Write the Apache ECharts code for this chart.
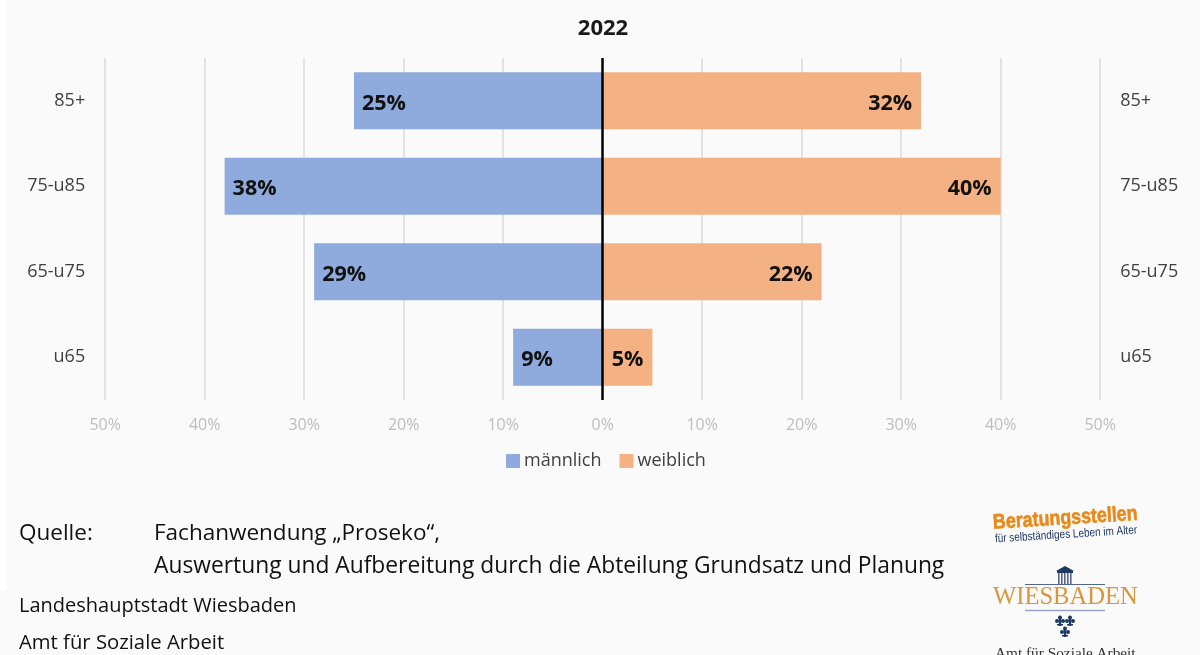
<!DOCTYPE html>
<html lang="de">
<head>
<meta charset="utf-8">
<title>Altersstruktur 2022</title>
<script src="https://cdn.jsdelivr.net/npm/echarts@6/dist/echarts.min.js"></script>
<style>
  html, body { margin: 0; padding: 0; background: #ffffff; }
  #chart { width: 1200px; height: 655px; }
</style>
</head>
<body>
<div id="chart"></div>
<script>
// Altersgruppen von unten nach oben, Anteile in Prozent
const ageGroups = ['u65', '65-u75', '75-u85', '85+'];
const maleShare = [9, 29, 38, 25];
const femaleShare = [5, 22, 40, 32];
const axisTicks = [-50, -40, -30, -20, -10, 0, 10, 20, 30, 40, 50];

const UI_FONT = '"Open Sans", "Noto Sans", sans-serif';
const SERIF = '"Liberation Serif", "DejaVu Serif", serif';
const SANS = '"Liberation Sans", sans-serif';
const NAVY = '#1f3864';
const GOLD = '#d9963a';

const pct = v => Math.abs(v) + '%';

// Text des Fußbereichs
function footerText(x, y, text, size) {
  return { type: 'text', x, y, style: { text, font: size + 'px ' + UI_FONT, fill: '#111111', verticalAlign: 'middle' } };
}

// Wappenlilie im Logo
function lily(x, y) {
  return { type: 'group', x, y, children: [
    { type: 'circle', shape: { cx: 0, cy: -3.5, r: 2 }, style: { fill: NAVY } },
    { type: 'circle', shape: { cx: -3, cy: 0, r: 2 }, style: { fill: NAVY } },
    { type: 'circle', shape: { cx: 3, cy: 0, r: 2 }, style: { fill: NAVY } },
    { type: 'rect', shape: { x: -1.2, y: -3, width: 2.4, height: 8 }, style: { fill: NAVY } },
    { type: 'rect', shape: { x: -3, y: 3, width: 6, height: 1.5 }, style: { fill: NAVY } }
  ] };
}

// Säulen des Kurhauses im Logo
const columns = [1058, 1061, 1064, 1067, 1070].map(x => (
  { type: 'rect', shape: { x, y: 573, width: 1.6, height: 12 }, style: { fill: '#56658a' } }
));

const chart = echarts.init(document.getElementById('chart'), null, { renderer: 'canvas' });

chart.setOption({
  animation: false,
  backgroundColor: '#fafafa',
  textStyle: { fontFamily: UI_FONT },
  title: {
    text: '2022', left: 598, top: 13, textAlign: 'center',
    textStyle: { fontSize: 22, fontWeight: 'bold', color: '#1a1a1a', fontFamily: UI_FONT }
  },
  legend: {
    data: ['männlich', 'weiblich'],
    left: 501, top: 447, icon: 'rect',
    itemWidth: 14, itemHeight: 14, itemGap: 18,
    textStyle: { fontSize: 18, color: '#404040', fontFamily: UI_FONT, padding: [0, 0, 0, -1] }
  },
  grid: { left: 105.2, right: 99.8, top: 58, bottom: 255 },
  xAxis: {
    type: 'value', min: -50, max: 50, interval: 10,
    axisLine: { show: false }, axisTick: { show: false },
    splitLine: { lineStyle: { color: '#e3e3e3', width: 2 } },
    axisLabel: {
      margin: 17, fontSize: 16, color: '#bdbdbd', fontFamily: UI_FONT,
      customValues: axisTicks, formatter: pct
    }
  },
  yAxis: [
    {
      type: 'category', data: ageGroups, position: 'left',
      axisLine: { show: false }, axisTick: { show: false },
      axisLabel: { margin: 20, fontSize: 18, color: '#404040', fontFamily: UI_FONT, padding: [5, 0, 0, 0] }
    },
    {
      type: 'category', data: ageGroups, position: 'right',
      axisLine: { show: false }, axisTick: { show: false },
      axisLabel: { margin: 20, fontSize: 18, color: '#404040', fontFamily: UI_FONT, padding: [5, 0, 0, 0] }
    }
  ],
  series: [
    {
      name: 'männlich', type: 'bar', stack: 'pyramid', barWidth: 57,
      itemStyle: { color: '#8faadc' },
      data: maleShare.map(v => -v),
      label: {
        show: true, position: 'insideLeft', distance: 8, offset: [0, 3], formatter: p => pct(p.value),
        fontSize: 21.5, fontWeight: 'bold', color: '#111111', fontFamily: UI_FONT
      },
      markLine: {
        silent: true, symbol: 'none', animation: false,
        label: { show: false },
        lineStyle: { color: '#000000', width: 2.5, type: 'solid' },
        data: [{ xAxis: 0 }],
        z: 10
      }
    },
    {
      name: 'weiblich', type: 'bar', stack: 'pyramid', barWidth: 57,
      itemStyle: { color: '#f4b183' },
      data: femaleShare.map((v, i) => i === 0
        ? { value: v, label: { position: 'insideLeft' } }
        : v),
      label: {
        show: true, position: 'insideRight', distance: 9, offset: [0, 3], formatter: p => pct(p.value),
        fontSize: 21.5, fontWeight: 'bold', color: '#111111', fontFamily: UI_FONT
      }
    }
  ],
  graphic: { elements: [
    // helle Kante links
    { type: 'rect', shape: { x: 0, y: 0, width: 7, height: 590 }, style: { fill: '#ffffff' }, z: -1 },

    // Quellenangabe
    footerText(19, 534, 'Quelle:', 22.5),
    footerText(154, 534, 'Fachanwendung „Proseko“,', 22.5),
    footerText(154, 567, 'Auswertung und Aufbereitung durch die Abteilung Grundsatz und Planung', 22.8),
    footerText(19, 606, 'Landeshauptstadt Wiesbaden', 20),
    footerText(19, 643, 'Amt für Soziale Arbeit', 20.3),

    // Logo der Beratungsstellen
    { type: 'text', x: 993, y: 523, rotation: 0.062, scaleX: 0.85, style: {
      text: 'Beratungsstellen', font: 'bold 21px ' + SANS,
      fill: '#e8891c', stroke: '#e8891c', lineWidth: 0.6, verticalAlign: 'middle' } },
    { type: 'text', x: 995, y: 539, rotation: 0.062, scaleX: 0.83, style: {
      text: 'für selbständiges Leben im Alter', font: '12px ' + SANS,
      fill: NAVY, verticalAlign: 'middle' } },

    // Logo Wiesbaden: Kurhaus, Schriftzug, Lilien
    { type: 'polygon', shape: { points: [[1056, 571], [1065, 566], [1074, 571]] }, style: { fill: NAVY } },
    { type: 'rect', shape: { x: 1057, y: 571, width: 16, height: 2 }, style: { fill: NAVY } },
    ...columns,
    { type: 'line', shape: { x1: 1025, y1: 584.5, x2: 1105, y2: 584.5 }, style: { stroke: '#55658a', lineWidth: 1 } },
    { type: 'text', x: 993, y: 598, style: {
      text: 'WIESBADEN', font: '24.6px ' + SERIF, fill: GOLD, verticalAlign: 'middle' } },
    { type: 'line', shape: { x1: 1025, y1: 610.5, x2: 1105, y2: 610.5 }, style: { stroke: '#9aa6bf', lineWidth: 1.5 } },
    lily(1060, 621), lily(1070, 621), lily(1065, 632),
    { type: 'text', x: 995, y: 654, style: {
      text: 'Amt für Soziale Arbeit', font: '15.3px ' + SERIF, fill: '#333333', verticalAlign: 'middle' } }
  ] }
});
</script>
</body>
</html>
